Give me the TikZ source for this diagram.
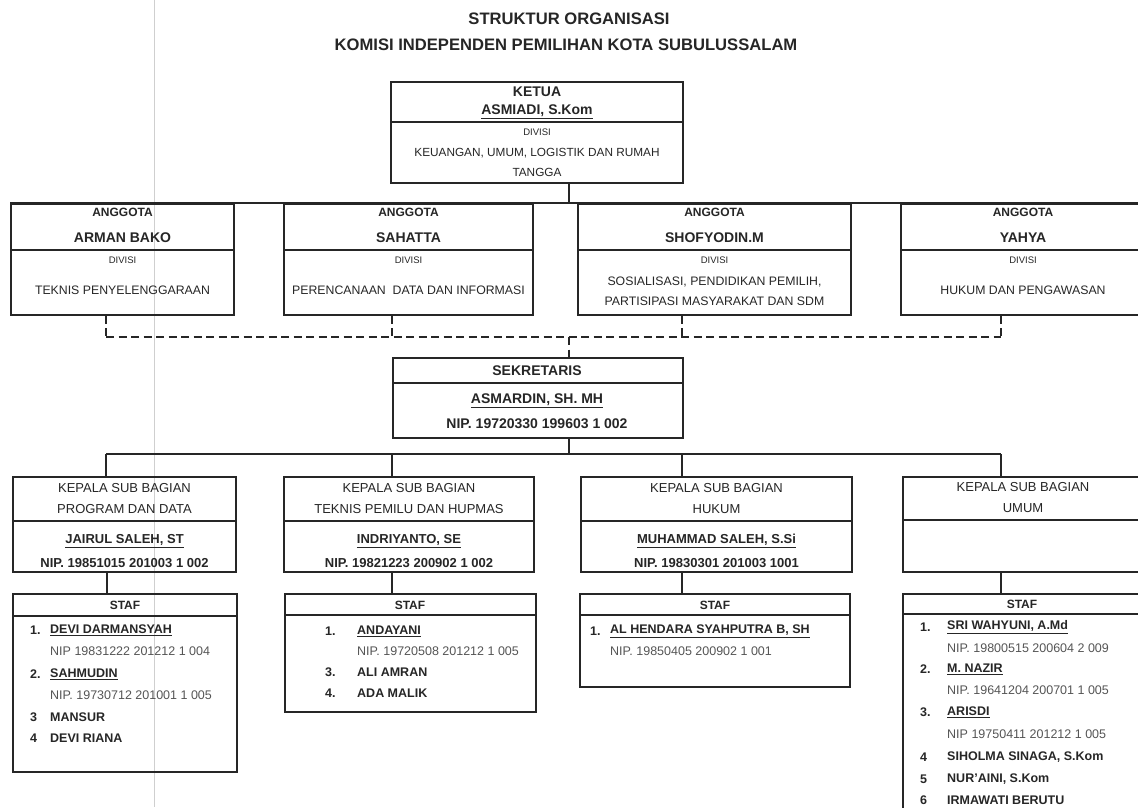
\documentclass[tikz,border=0pt]{standalone}
\usepackage{fontspec}
\setmainfont{Liberation Sans}
\usetikzlibrary{fit}
\definecolor{ink}{HTML}{262626}
\definecolor{nipc}{HTML}{555555}
\definecolor{scan}{HTML}{CFCFCF}
\newcommand\fsz[1]{\fontsize{#1}{#1}\selectfont}
\newcommand\twobox[6]{\node[box,fit={(#2,#3) (#4,#5)}] (#1) {};\draw[ln] (#2,#6) -- (#4,#6);}
\newcommand\sitem[6]{\node[stn] (#1a) at (#2,#4) {#5};\node[stn] (#1b) at (#3,#4) {#6};}
\begin{document}
\begin{tikzpicture}[x=1pt,y=-1pt,
  box/.style={draw=ink,line width=1.6pt,inner sep=0pt},
  ln/.style={draw=ink,line width=1.6pt},
  dl/.style={draw=ink,line width=1.6pt,dash pattern=on 8pt off 4.5pt},
  t/.style={inner sep=0pt,text=ink,anchor=center},
  ttl/.style={t,font=\fsz{16.6}\bfseries},
  hb/.style={t,font=\fsz{14}\bfseries},
  hbs/.style={t,font=\fsz{12}\bfseries},
  dv/.style={t,font=\fsz{9.5}},
  dt/.style={t,font=\fsz{12.3}},
  kp/.style={t,font=\fsz{13}},
  kb/.style={t,font=\fsz{13}\bfseries},
  stn/.style={inner sep=0pt,text=ink,anchor=west,font=\fsz{12.5}\bfseries},
  nip/.style={inner sep=0pt,text=nipc,anchor=west,font=\fsz{12.5}}]
\useasboundingbox (0,0) rectangle (1138,807);
\clip (0,0) rectangle (1138,807);
\fill[white] (0,0) rectangle (1138,807);
\draw[scan,line width=0.8pt] (154,0) -- (154,807);

% title
\node[ttl] (title1) at (569,19) {STRUKTUR ORGANISASI};
\node[ttl] (title2) at (566,45) {KOMISI INDEPENDEN PEMILIHAN KOTA SUBULUSSALAM};

% ketua
\twobox{ketua}{391}{82}{683}{183}{122}
\node[hb] (ketuaA) at (537,92) {KETUA};
\node[hb] (ketuaB) at (537,112) {\underline{ASMIADI, S.Kom}};
\node[dv] (ketuaC) at (537,132) {DIVISI};
\node[t,font=\fsz{11.8}] (ketuaD) at (537,153) {KEUANGAN, UMUM, LOGISTIK DAN RUMAH};
\node[t,font=\fsz{11.8}] (ketuaE) at (537,172) {TANGGA};

% anggota
\twobox{ang1}{11}{204}{234}{315}{250}
\twobox{ang2}{284}{204}{533}{315}{250}
\twobox{ang3}{578}{204}{851}{315}{250}
\twobox{ang4}{901}{204}{1145}{315}{250}
\node[hbs] (a1a) at (122.5,212) {ANGGOTA};
\node[hb] (a1b) at (122.5,238) {ARMAN BAKO};
\node[dv] (a1c) at (122.5,260) {DIVISI};
\node[dt] (a1d) at (122.5,290) {TEKNIS PENYELENGGARAAN};
\node[hbs] (a2a) at (408.5,212) {ANGGOTA};
\node[hb] (a2b) at (408.5,238) {SAHATTA};
\node[dv] (a2c) at (408.5,260) {DIVISI};
\node[dt] (a2d) at (408.5,290) {PERENCANAAN\ \ DATA DAN INFORMASI};
\node[hbs] (a3a) at (714.5,212) {ANGGOTA};
\node[hb] (a3b) at (714.5,238) {SHOFYODIN.M};
\node[dv] (a3c) at (714.5,260) {DIVISI};
\node[dt] (a3d) at (714.5,282) {SOSIALISASI, PENDIDIKAN PEMILIH,};
\node[dt] (a3e) at (714.5,301) {PARTISIPASI MASYARAKAT DAN SDM};
\node[hbs] (a4a) at (1023,212) {ANGGOTA};
\node[hb] (a4b) at (1023,238) {YAHYA};
\node[dv] (a4c) at (1023,260) {DIVISI};
\node[dt] (a4d) at (1023,290) {HUKUM DAN PENGAWASAN};

% ketua -> anggota
\draw[ln] ([xshift=32pt]ketua.south) -- ([xshift=32pt]ketua.south |- ang1.north);
\draw[ln] (ang1.north west) -- (ang4.north east);

% sekretaris
\twobox{sek}{393}{358}{683}{438}{383}
\node[hb] (sekA) at (537,371) {SEKRETARIS};
\node[hb] (sekB) at (537,401) {\underline{ASMARDIN, SH. MH}};
\node[hb] (sekC) at (537,424) {NIP. 19720330 199603 1 002};

% dashed anggota -> sekretaris
\coordinate (dj) at (569,337);
\coordinate (d1) at (106,337);
\coordinate (d4) at (1001,337);
\draw[dl] (d1) -- (d4);
\draw[dl] (ang1.south -| d1) -- (d1);
\draw[dl] (ang2.south -| 392,0) -- (392,337);
\draw[dl] (ang3.south -| 682,0) -- (682,337);
\draw[dl] (ang4.south -| d4) -- (d4);
\draw[dl] (dj) -- (sek.north -| dj);

% kepala
\twobox{kep1}{13}{477}{236}{572}{521}
\twobox{kep2}{284}{477}{534}{572}{521}
\twobox{kep3}{581}{477}{852}{572}{521}
\twobox{kep4}{903}{477}{1145}{572}{520}
\node[kp] (k1a) at (124.5,488) {KEPALA SUB BAGIAN};
\node[kp] (k1b) at (124.5,509) {PROGRAM DAN DATA};
\node[kb] (k1c) at (124.5,541) {\underline{JAIRUL SALEH, ST}};
\node[kb] (k1d) at (124.5,563) {NIP. 19851015 201003 1 002};
\node[kp] (k2a) at (409,488) {KEPALA SUB BAGIAN};
\node[kp] (k2b) at (409,509) {TEKNIS PEMILU DAN HUPMAS};
\node[kb] (k2c) at (409,541) {\underline{INDRIYANTO, SE}};
\node[kb] (k2d) at (409,563) {NIP. 19821223 200902 1 002};
\node[kp] (k3a) at (716.5,488) {KEPALA SUB BAGIAN};
\node[kp] (k3b) at (716.5,509) {HUKUM};
\node[kb] (k3c) at (716.5,541) {\underline{MUHAMMAD SALEH, S.Si}};
\node[kb] (k3d) at (716.5,563) {NIP. 19830301 201003 1001};
\node[kp] (k4a) at (1023,487) {KEPALA SUB BAGIAN};
\node[kp] (k4b) at (1023,508) {UMUM};

% sekretaris -> kepala
\coordinate (kj) at (569,454);
\draw[ln] (sek.south -| kj) -- (kj);
\draw[ln] (106,454) -- (1001,454);
\draw[ln] (106,454) -- (kep1.north -| 106,0);
\draw[ln] (392,454) -- (kep2.north -| 392,0);
\draw[ln] (682,454) -- (kep3.north -| 682,0);
\draw[ln] (1001,454) -- (kep4.north -| 1001,0);

% staf
\twobox{st1}{13}{594}{237}{772}{616}
\twobox{st2}{285}{594}{536}{712}{615}
\twobox{st3}{580}{594}{850}{687}{615}
\twobox{st4}{903}{594}{1145}{830}{614}
\node[hbs] (s1h) at (125,605) {STAF};
\node[hbs] (s2h) at (410,605) {STAF};
\node[hbs] (s3h) at (715,605) {STAF};
\node[hbs] (s4h) at (1022,604) {STAF};

\draw[ln] (kep1.south -| 107,0) -- (st1.north -| 107,0);
\draw[ln] (kep2.south -| 392,0) -- (st2.north -| 392,0);
\draw[ln] (kep3.south -| 682,0) -- (st3.north -| 682,0);
\draw[ln] (kep4.south -| 1001,0) -- (st4.north -| 1001,0);

% staf 1
\sitem{p11}{30}{50}{630}{1.}{\underline{DEVI DARMANSYAH}}
\node[nip] (p11n) at (50,651) {NIP 19831222 201212 1 004};
\sitem{p12}{30}{50}{674}{2.}{\underline{SAHMUDIN}}
\node[nip] (p12n) at (50,695) {NIP. 19730712 201001 1 005};
\sitem{p13}{30}{50}{717}{3}{MANSUR}
\sitem{p14}{30}{50}{738}{4}{DEVI RIANA}
% staf 2
\sitem{p21}{325}{357}{631}{1.}{\underline{ANDAYANI}}
\node[nip] (p21n) at (357,651) {NIP. 19720508 201212 1 005};
\sitem{p23}{325}{357}{672}{3.}{ALI AMRAN}
\sitem{p24}{325}{357}{693}{4.}{ADA MALIK}
% staf 3
\sitem{p31}{590}{610}{631}{1.}{\underline{AL HENDARA SYAHPUTRA B, SH}}
\node[nip] (p31n) at (610,651) {NIP. 19850405 200902 1 001};
% staf 4
\sitem{p41}{920}{947}{627}{1.}{\underline{SRI WAHYUNI, A.Md}}
\node[nip] (p41n) at (947,648) {NIP. 19800515 200604 2 009};
\sitem{p42}{920}{947}{669}{2.}{\underline{M. NAZIR}}
\node[nip] (p42n) at (947,690) {NIP. 19641204 200701 1 005};
\sitem{p43}{920}{947}{712}{3.}{\underline{ARISDI}}
\node[nip] (p43n) at (947,734) {NIP 19750411 201212 1 005};
\sitem{p44}{920}{947}{757}{4}{SIHOLMA SINAGA, S.Kom}
\sitem{p45}{920}{947}{779}{5}{NUR'AINI, S.Kom}
\sitem{p46}{920}{947}{800}{6}{IRMAWATI BERUTU}
\end{tikzpicture}
\end{document}
